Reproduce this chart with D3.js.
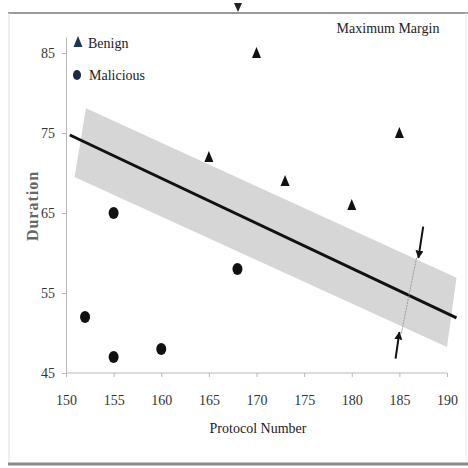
<!DOCTYPE html>
<html lang="en">
<head>
<meta charset="utf-8">
<title>Maximum Margin</title>
<script src="https://d3js.org/d3.v7.min.js"></script>
<style>
    html, body { margin: 0; padding: 0; background: #fff; }
    text { font-family: "Liberation Serif", "Times New Roman", serif; fill: #222; }
    .axis path, .axis line { stroke: #b8b8b8; }
    .axis text { font-size: 14px; fill: #333; }
</style>
</head>
<body>
<script>
// data
var xTicks = [150, 155, 160, 165, 170, 175, 180, 185, 190];
var yTicks = [45, 55, 65, 75, 85];

var benign = [[170, 85], [185, 75], [165, 72], [173, 69], [180, 66]];
var malicious = [[155, 65], [168, 58], [152, 52], [160, 48], [155, 47]];

// separating line and margin band (data coords)
var sepLine = [[150.4, 74.75], [191, 51.9]];
var band = [[152.1, 78.1], [191.0, 56.9], [190.0, 48.25], [150.9, 69.5]];

// margin arrows
var arrowTop = [[187.5, 63.3], [187.0, 59.4]];
var arrowBottom = [[184.6, 46.8], [185.0, 50.1]];
var marginLine = [[186.8, 59.4], [185.2, 49.9]];

var W = 468, H = 468;
var svg = d3.select("body").append("svg").attr("width", W).attr("height", H);

// frame
svg.append("line").attr("x1", 8).attr("x2", 468).attr("y1", 13).attr("y2", 13)
    .attr("stroke", "#9a9a9a").attr("stroke-width", 2);
svg.append("line").attr("x1", 9).attr("x2", 9).attr("y1", 13).attr("y2", 464)
    .attr("stroke", "#e0e0e0").attr("stroke-width", 1);
svg.append("line").attr("x1", 466).attr("x2", 466).attr("y1", 13).attr("y2", 464)
    .attr("stroke", "#ececec").attr("stroke-width", 1);
svg.append("line").attr("x1", 8).attr("x2", 468).attr("y1", 464).attr("y2", 464)
    .attr("stroke", "#8a8a8a").attr("stroke-width", 3);
svg.append("path").attr("d", "M234,3 L242,3 L238,12 Z").attr("fill", "#222");

var x = d3.scaleLinear().domain([150, 190]).range([66, 447]);
var y = d3.scaleLinear().domain([45, 87]).range([373, 37]);

var line = d3.line().x(function(d) { return x(d[0]); }).y(function(d) { return y(d[1]); });

// band
svg.append("path").attr("d", line(band) + "Z").attr("fill", "#d6d6d6");

// axes
svg.append("g").attr("class", "axis x")
    .attr("transform", "translate(0," + y(45) + ")")
    .call(d3.axisBottom(x).tickValues(xTicks).tickSize(4).tickSizeOuter(0).tickPadding(18))
    .call(function(g) { g.select(".domain").attr("d", "M66,0H447"); });

svg.append("g").attr("class", "axis y")
    .attr("transform", "translate(" + x(150) + ",0)")
    .call(d3.axisLeft(y).tickValues(yTicks).tickSize(4).tickSizeOuter(0).tickPadding(7));

// separating line
svg.append("path").attr("d", line(sepLine))
    .attr("stroke", "#111").attr("stroke-width", 3).attr("fill", "none");

// margin marker line and arrows
svg.append("path").attr("d", line(marginLine))
    .attr("stroke", "#999").attr("stroke-width", 1).attr("stroke-dasharray", "2,1").attr("fill", "none");

svg.append("defs").append("marker").attr("id", "ah")
    .attr("viewBox", "0 0 10 10").attr("refX", 9).attr("refY", 5)
    .attr("markerWidth", 4).attr("markerHeight", 4).attr("orient", "auto")
    .append("path").attr("d", "M0,0 L10,5 L0,10 Z").attr("fill", "#111");

[arrowTop, arrowBottom].forEach(function(a) {
    svg.append("path").attr("d", line(a))
        .attr("stroke", "#111").attr("stroke-width", 2).attr("fill", "none")
        .attr("marker-end", "url(#ah)");
});

// points
var tri = "M0,-6 L4.5,5 L-4.5,5 Z";
svg.selectAll(".benign").data(benign).enter().append("path")
    .attr("class", "benign").attr("d", tri).attr("fill", "#111")
    .attr("transform", function(d) { return "translate(" + x(d[0]) + "," + y(d[1]) + ")"; });

svg.selectAll(".mal").data(malicious).enter().append("ellipse")
    .attr("class", "mal").attr("rx", 5).attr("ry", 6).attr("fill", "#111")
    .attr("cx", function(d) { return x(d[0]); })
    .attr("cy", function(d) { return y(d[1]); });

// legend
svg.append("path").attr("d", tri).attr("fill", "#1f3550").attr("transform", "translate(78,42)");
svg.append("text").attr("x", 88).attr("y", 48).style("font-size", "14px").text("Benign");
svg.append("ellipse").attr("cx", 77).attr("cy", 75).attr("rx", 4).attr("ry", 5).attr("fill", "#1a2a45");
svg.append("text").attr("x", 89).attr("y", 80).style("font-size", "14px").text("Malicious");

svg.append("text").attr("x", 388).attr("y", 33).attr("text-anchor", "middle")
    .style("font-size", "14px").text("Maximum Margin");

// axis titles
svg.append("text").attr("x", 258).attr("y", 433).attr("text-anchor", "middle")
    .style("font-size", "14px").text("Protocol Number");
svg.append("text").attr("transform", "translate(38,206) rotate(-90)").attr("text-anchor", "middle")
    .style("font-size", "16px").style("font-weight", "bold").style("letter-spacing", "1px")
    .attr("fill", "#666").style("fill", "#666").text("Duration");
</script>
</body>
</html>
